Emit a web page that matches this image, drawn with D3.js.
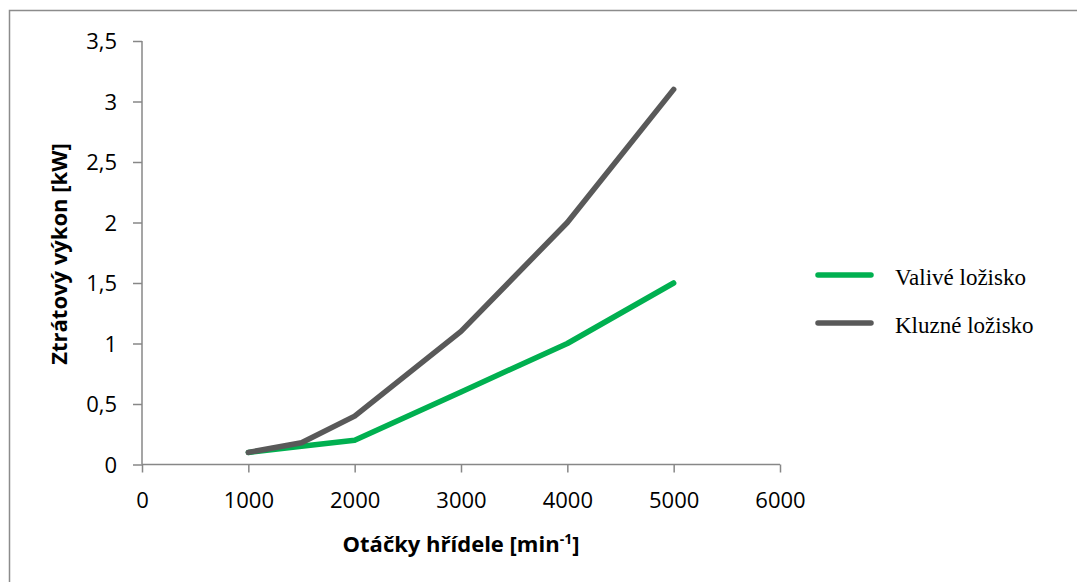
<!DOCTYPE html>
<html>
<head>
<meta charset="utf-8">
<script src="https://cdn.jsdelivr.net/npm/d3@7"></script>
<style>
  html, body { margin: 0; padding: 0; background: #fff; }
  svg { display: block; }
</style>
</head>
<body>
<svg id="chart" width="1077" height="582"></svg>
<script>
// Shaft speed [1/min] and power loss [kW] for both bearing types
const speeds = [1000, 1500, 2000, 3000, 4000, 5000];
const rollingLoss = [0.1, 0.15, 0.2, 0.6, 1.0, 1.5];
const slidingLoss = [0.1, 0.18, 0.4, 1.1, 2.0, 3.1];
const seriesNames = ["Valivé ložisko", "Kluzné ložisko"];
const xTicks = [0, 1000, 2000, 3000, 4000, 5000, 6000];
const yTicks = [0, 0.5, 1, 1.5, 2, 2.5, 3, 3.5];

const colors = ["#00b050", "#595959"];
const axisColor = "#878787";
const tickFont = "'Open Sans', sans-serif";

const svg = d3.select("#chart");

// outer chart frame
svg.append("rect")
  .attr("x", 9.5).attr("y", 10.5)
  .attr("width", 1100).attr("height", 600)
  .attr("fill", "none").attr("stroke", "#8c8c8c").attr("stroke-width", 1.5);

const x = d3.scaleLinear().domain([0, 6000]).range([142, 780]);
const y = d3.scaleLinear().domain([0, 3.5]).range([464.5, 41]);

const fmt = v => String(v).replace(".", ",");

// x axis
const gx = svg.append("g").attr("transform", `translate(0,${y(0)})`)
  .call(d3.axisBottom(x).tickValues(xTicks).tickSize(8).tickPadding(20).tickFormat(d => d));
// y axis
const gy = svg.append("g").attr("transform", `translate(${x(0)},0)`)
  .call(d3.axisLeft(y).tickValues(yTicks).tickSize(9).tickPadding(16).tickFormat(fmt));

[gx, gy].forEach(g => {
  g.select(".domain").attr("stroke", axisColor).attr("stroke-width", 1.5);
  g.selectAll(".tick line").attr("stroke", axisColor).attr("stroke-width", 1.5);
  g.selectAll(".tick text")
    .attr("fill", "#000")
    .style("font-family", tickFont)
    .style("font-size", "22px");
});
gx.select(".domain").attr("d", `M${x(0)},0H${x(6000)}`);
gy.select(".domain").attr("d", `M0,${y(0)}V${y(3.5)}`);
gy.selectAll(".tick text").attr("dy", "0.36em");

// data lines
const series = [
  { name: seriesNames[0], values: rollingLoss, color: colors[0] },
  { name: seriesNames[1], values: slidingLoss, color: colors[1] }
];
const line = d3.line().x((d, i) => x(speeds[i])).y(d => y(d));

svg.append("g").selectAll("path")
  .data(series)
  .join("path")
  .attr("d", s => line(s.values))
  .attr("fill", "none")
  .attr("stroke", s => s.color)
  .attr("stroke-width", 5.5)
  .attr("stroke-linejoin", "round")
  .attr("stroke-linecap", "round");

// axis titles
svg.append("text")
  .attr("x", 461).attr("y", 552)
  .attr("text-anchor", "middle")
  .style("font-family", tickFont)
  .style("font-size", "22px")
  .style("font-weight", "bold")
  .text("Otáčky hřídele [min")
  .append("tspan").attr("dy", -8).style("font-size", "14px").text("-1")
  .clone(true).attr("dy", 8).style("font-size", "22px").text("]");

svg.append("text")
  .attr("transform", "translate(67,254) rotate(-90)")
  .attr("text-anchor", "middle")
  .style("font-family", tickFont)
  .style("font-size", "22px")
  .style("font-weight", "bold")
  .text("Ztrátový výkon [kW]");

// legend
const legend = svg.append("g").selectAll("g")
  .data(series)
  .join("g")
  .attr("transform", (d, i) => `translate(0,${275 + i * 48})`);
legend.append("line")
  .attr("x1", 818).attr("x2", 871)
  .attr("stroke", d => d.color)
  .attr("stroke-width", 5.5)
  .attr("stroke-linecap", "round");
legend.append("text")
  .attr("x", 895).attr("y", 10)
  .style("font-family", "'Liberation Serif', 'Times New Roman', serif")
  .style("font-size", "23px")
  .attr("fill", "#000")
  .text(d => d.name);
</script>
</body>
</html>
